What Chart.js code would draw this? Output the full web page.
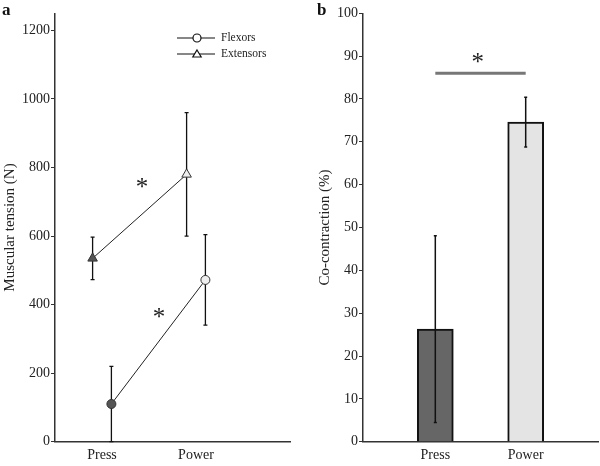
<!DOCTYPE html>
<html>
<head>
<meta charset="utf-8">
<script src="https://cdn.jsdelivr.net/npm/chart.js@4.4.1/dist/chart.umd.min.js"></script>
<style>
  body { margin: 0; background: #fff; }
  #wrap { position: relative; width: 600px; height: 466px; }
  canvas { position: absolute; top: 0; }
</style>
</head>
<body>
<div id="wrap">
  <canvas id="tensionChart" width="300" height="466" style="left:0"></canvas>
  <canvas id="coconChart" width="300" height="466" style="left:300px"></canvas>
</div>
<script>
// panel a: muscular tension (N)
const categories = ['Press', 'Power'];
const flexorMean = [110, 472];
const flexorErr = [110, 132];
const extensorMean = [535, 780];
const extensorErr = [62, 180];

// panel b: co-contraction (%)
const coconMean = [26.3, 74.6];
const coconErr = [21.8, 5.8];

// significance marks: [x, y] in data units
const tensionStars = [[1.425, 755], [1.606, 375]];
const coconSig = { from: 1, to: 2, y: 86, starX: 1.47, starY: 89.5 };

const serif = "'Liberation Serif', 'Times New Roman', serif";
const pointFill = ['#555', '#eee'];
const groupOffset = 0.1;

function drawStar(ctx, x, y, size, color) {
    ctx.save();
    ctx.font = `${size}px ${serif}`;
    ctx.fillStyle = color;
    ctx.textAlign = 'center';
    ctx.textBaseline = 'alphabetic';
    const m = ctx.measureText('*');
    ctx.fillText('*', x, y + (m.actualBoundingBoxAscent - m.actualBoundingBoxDescent) / 2);
    ctx.restore();
}

function drawErrors(chart, errs, cap, width) {
    const {ctx, scales} = chart;
    ctx.save();
    ctx.strokeStyle = '#111';
    ctx.lineWidth = width;
    chart.data.datasets.forEach((ds, di) => {
        ds.data.forEach((p, i) => {
            const x = scales.x.getPixelForValue(p.x);
            const y1 = scales.y.getPixelForValue(p.y + errs[di][i]);
            const y0 = scales.y.getPixelForValue(Math.max(0, p.y - errs[di][i]));
            ctx.beginPath();
            ctx.moveTo(x, y0);
            ctx.lineTo(x, y1);
            ctx.moveTo(x - cap, y1);
            ctx.lineTo(x + cap, y1);
            ctx.moveTo(x - cap, y0);
            ctx.lineTo(x + cap, y0);
            ctx.stroke();
        });
    });
    ctx.restore();
}

function marker(ctx, style, x, y, r) {
    ctx.beginPath();
    if (style === 'circle') {
        ctx.arc(x, y, r, 0, Math.PI * 2);
    } else {
        ctx.moveTo(x, y - r);
        ctx.lineTo(x + r * 1.05, y + r * 0.75);
        ctx.lineTo(x - r * 1.05, y + r * 0.75);
        ctx.closePath();
    }
    ctx.fill();
    ctx.stroke();
}

const tensionPlugin = {
    id: 'tensionExtras',
    beforeDatasetsDraw: (chart) => {
        drawErrors(chart, [flexorErr, extensorErr], 2, 1.3);
    },
    afterDraw: (chart) => {
        const {ctx, scales} = chart;
        tensionStars.forEach(s => {
            drawStar(ctx, scales.x.getPixelForValue(s[0]), scales.y.getPixelForValue(s[1]), 25, '#222');
        });

        // legend
        ctx.save();
        ctx.strokeStyle = '#111';
        ctx.lineWidth = 1.2;
        const rows = [['Flexors', 'circle', 38], ['Extensors', 'triangle', 54]];
        rows.forEach(r => {
            ctx.beginPath();
            ctx.moveTo(177, r[2]);
            ctx.lineTo(215, r[2]);
            ctx.stroke();
            ctx.fillStyle = '#fff';
            marker(ctx, r[1], 197, r[2], 4);
            ctx.fillStyle = '#222';
            ctx.font = `11.5px ${serif}`;
            ctx.textAlign = 'left';
            ctx.textBaseline = 'middle';
            ctx.fillText(r[0], 221, r[2]);
        });

        ctx.font = `bold 17px ${serif}`;
        ctx.fillStyle = '#111';
        ctx.textBaseline = 'top';
        ctx.fillText('a', 2, 2);
        ctx.restore();
    }
};

const coconPlugin = {
    id: 'coconExtras',
    afterDatasetsDraw: (chart) => {
        drawErrors(chart, [coconErr], 1.5, 1.5);
    },
    afterDraw: (chart) => {
        const {ctx, scales} = chart;
        const y = scales.y.getPixelForValue(coconSig.y);
        ctx.save();
        ctx.strokeStyle = '#777';
        ctx.lineWidth = 3;
        ctx.beginPath();
        ctx.moveTo(scales.x.getPixelForValue(coconSig.from), y);
        ctx.lineTo(scales.x.getPixelForValue(coconSig.to), y);
        ctx.stroke();
        drawStar(ctx, scales.x.getPixelForValue(coconSig.starX), scales.y.getPixelForValue(coconSig.starY), 25, '#222');

        ctx.font = `bold 17px ${serif}`;
        ctx.fillStyle = '#111';
        ctx.textAlign = 'left';
        ctx.textBaseline = 'top';
        ctx.fillText('b', 17, 2);
        ctx.restore();
    }
};

function yAxis(min, max, step, width, title, titlePad) {
    return {
        min: min,
        max: max,
        afterFit: (s) => { s.width = width; },
        ticks: {
            stepSize: step,
            includeBounds: false,
            padding: 1,
            color: '#222',
            font: { family: serif, size: 14 },
            callback: (v) => String(v)
        },
        grid: { drawOnChartArea: false, tickLength: 4, color: '#333' },
        border: { color: '#333', width: 1.5 },
        title: {
            display: true,
            text: title,
            color: '#222',
            font: { family: serif, size: 15 },
            padding: { top: titlePad, bottom: 0 }
        }
    };
}

function xAxis(min, max) {
    return {
        type: 'linear',
        min: min,
        max: max,
        offset: false,
        afterFit: (s) => { s.height = 24.3; },
        afterBuildTicks: (s) => {
            s.ticks = categories.map((c, i) => ({ value: i + 1 }));
        },
        ticks: {
            padding: 5,
            color: '#222',
            font: { family: serif, size: 14 },
            callback: (v) => categories[v - 1] || ''
        },
        grid: { display: false, drawTicks: false, offset: false },
        border: { color: '#333', width: 1.5 }
    };
}

new Chart(document.getElementById('tensionChart').getContext('2d'), {
    type: 'line',
    data: {
        datasets: [{
            label: 'Flexors',
            data: flexorMean.map((v, i) => ({ x: i + 1 + groupOffset, y: v })),
            pointStyle: 'circle',
            pointRadius: 4.5,
            borderColor: '#222',
            borderWidth: 1,
            pointBackgroundColor: pointFill,
            pointBorderColor: '#333',
            pointBorderWidth: 1,
            tension: 0
        }, {
            label: 'Extensors',
            data: extensorMean.map((v, i) => ({ x: i + 1 - groupOffset, y: v })),
            pointStyle: 'triangle',
            pointRadius: 5.5,
            borderColor: '#222',
            borderWidth: 1,
            pointBackgroundColor: pointFill,
            pointBorderColor: '#333',
            pointBorderWidth: 1,
            tension: 0
        }]
    },
    options: {
        responsive: false,
        animation: false,
        layout: { padding: { top: 13.3, right: 10, left: 0, bottom: 0 } },
        scales: {
            x: xAxis(0.5, 3.0),
            y: yAxis(0, 1250, 200, 55, 'Muscular tension (N)', 1)
        },
        plugins: { legend: { display: false }, tooltip: { enabled: false } }
    },
    plugins: [tensionPlugin]
});

new Chart(document.getElementById('coconChart').getContext('2d'), {
    type: 'bar',
    data: {
        datasets: [{
            label: 'Co-contraction',
            data: coconMean.map((v, i) => ({ x: i + 1, y: v })),
            backgroundColor: ['#666', '#e4e4e4'],
            borderColor: '#111',
            borderWidth: 2,
            barThickness: 36
        }]
    },
    options: {
        responsive: false,
        animation: false,
        layout: { padding: { top: 13.3, right: 2, left: 0, bottom: 0 } },
        scales: {
            x: xAxis(0.2, 2.8),
            y: yAxis(0, 100, 10, 63, 'Co-contraction (%)', 16)
        },
        plugins: { legend: { display: false }, tooltip: { enabled: false } }
    },
    plugins: [coconPlugin]
});
</script>
</body>
</html>
